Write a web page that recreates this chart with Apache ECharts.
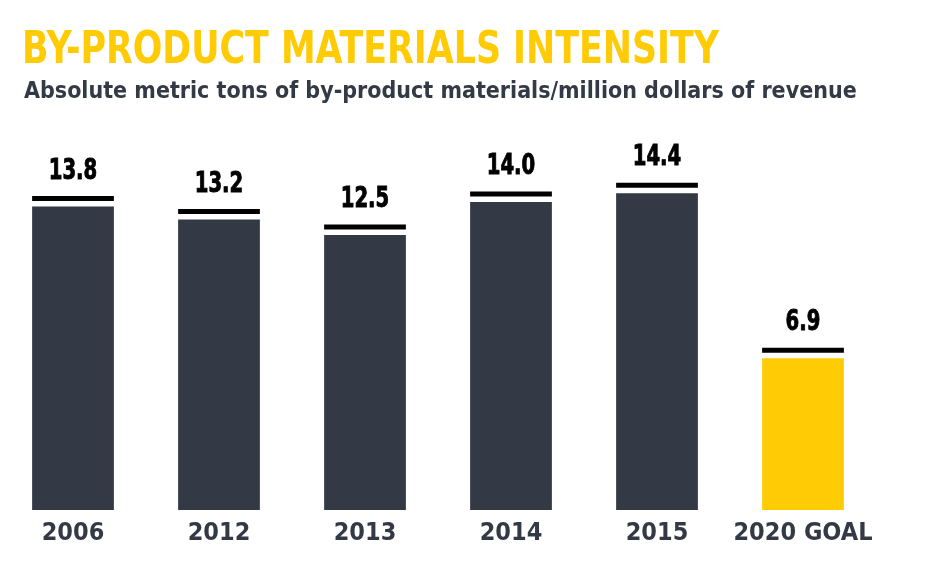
<!DOCTYPE html>
<html>
<head>
<meta charset="utf-8">
<script src="https://cdn.jsdelivr.net/npm/echarts@6/dist/echarts.min.js"></script>
<style>
html, body { margin: 0; padding: 0; background: #fff; }
#chart { width: 932px; height: 579px; }
</style>
</head>
<body>
<div id="chart"></div>
<script>
// by-product intensity, tons per million dollars of revenue
var categories = ['2006', '2012', '2013', '2014', '2015', '2020 GOAL'];
var values = [13.8, 13.2, 12.5, 14.0, 14.4, 6.9];
var goalIndex = 5;

var font = '"DejaVu Sans Condensed", "Liberation Sans", sans-serif';
var dark = '#333a45';
var yellow = '#ffcb05';

var myChart = echarts.init(document.getElementById('chart'));

// black cap line + value label above each bar
function renderCap(params, api) {
    var pt = api.coord([api.value(0), api.value(1)]);
    var w = api.size([1, 0])[0] * 0.56;
    return {
        type: 'group',
        children: [
            {
                type: 'rect',
                shape: { x: pt[0] - w / 2, y: pt[1] - 10.5, width: w, height: 5 },
                style: { fill: '#000' }
            },
            {
                type: 'text',
                x: pt[0],
                y: pt[1] - 21,
                scaleX: 0.78,
                style: {
                    text: api.value(1).toFixed(1),
                    fontFamily: font,
                    fontWeight: 'bold',
                    fontSize: 28,
                    fill: '#000',
                    stroke: '#000',
                    lineWidth: 0.9,
                    align: 'center',
                    verticalAlign: 'bottom'
                }
            }
        ]
    };
}

var option = {
    animation: false,
    graphic: [
        {
            type: 'text',
            x: 22,
            y: 29,
            scaleX: 0.86,
            style: {
                text: 'BY-PRODUCT MATERIALS INTENSITY',
                fill: yellow,
                fontFamily: font,
                fontWeight: 'bold',
                fontSize: 45,
                verticalAlign: 'top'
            }
        },
        {
            type: 'text',
            x: 24,
            y: 81,
            style: {
                text: 'Absolute metric tons of by-product materials/million dollars of revenue',
                fill: dark,
                fontFamily: font,
                fontWeight: 'bold',
                fontSize: 23,
                verticalAlign: 'top'
            }
        }
    ],
    grid: { left: 0, right: 56, top: 180, bottom: 69 },
    xAxis: {
        type: 'category',
        data: categories,
        axisLine: { show: false },
        axisTick: { show: false },
        axisLabel: {
            interval: 0,
            color: dark,
            fontFamily: font,
            fontWeight: 'bold',
            fontSize: 25,
            margin: 11
        }
    },
    yAxis: {
        type: 'value',
        min: 0,
        max: 15,
        show: false,
        splitLine: { show: false }
    },
    series: [
        {
            type: 'bar',
            barWidth: '56%',
            data: values.map(function (v, i) {
                return { value: v, itemStyle: { color: i === goalIndex ? yellow : dark } };
            })
        },
        {
            type: 'custom',
            renderItem: renderCap,
            data: values.map(function (v, i) { return [i, v]; }),
            z: 3
        }
    ]
};

myChart.setOption(option);
</script>
</body>
</html>
